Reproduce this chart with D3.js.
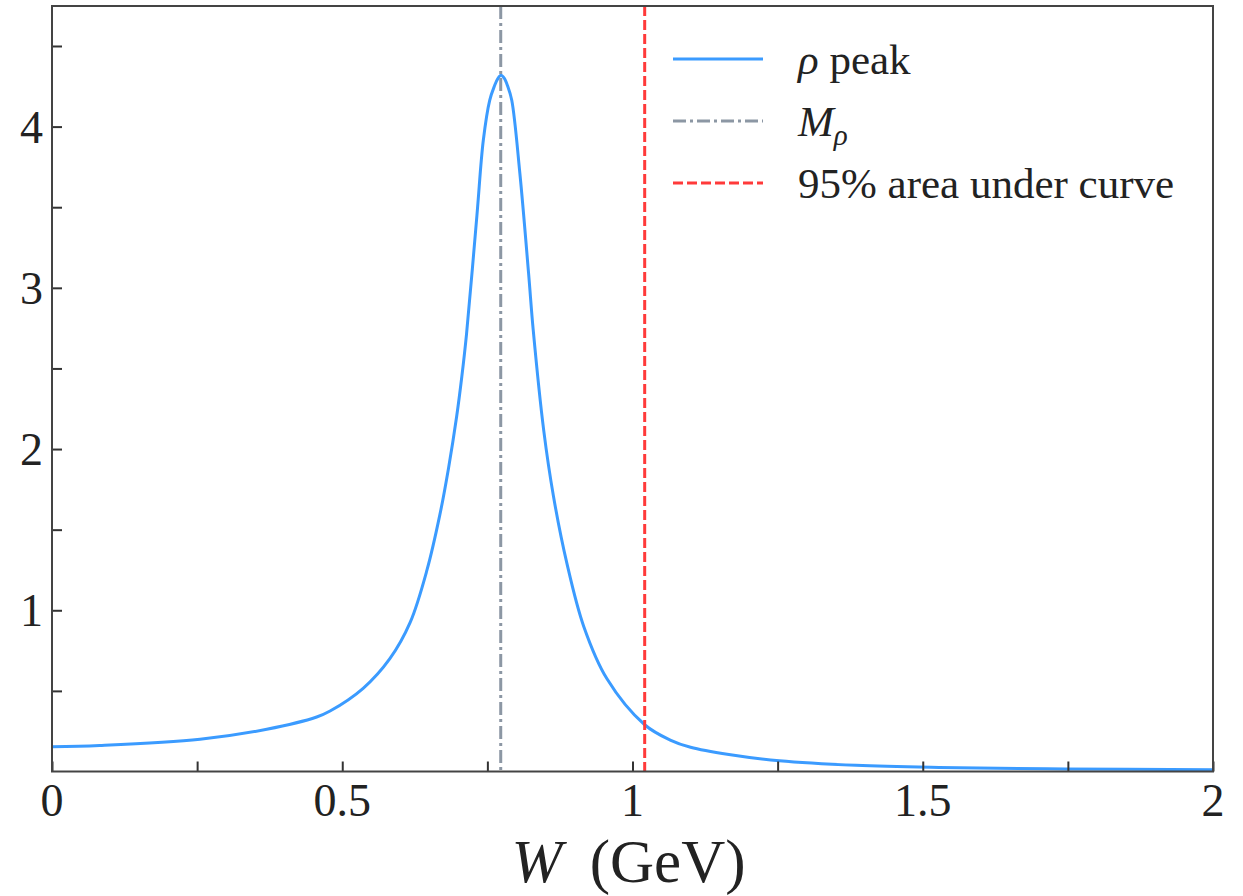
<!DOCTYPE html>
<html>
<head>
<meta charset='utf-8'/>
<title>rho peak</title>
<script src='https://d3js.org/d3.v7.min.js'></script>
<style>
body { margin: 0; background: #ffffff; }
text { font-family: 'Liberation Serif', 'DejaVu Serif', serif; fill: #222222; }
</style>
</head>
<body>
<script>
'use strict'

// curve: W (GeV) and peak height
const wValues = [0, 0.082, 0.255, 0.370, 0.456, 0.479, 0.536, 0.582, 0.617, 0.646, 0.668, 0.683,
	0.697, 0.706, 0.714, 0.732, 0.743, 0.754, 0.762, 0.768, 0.7735, 0.779, 0.785, 0.792, 0.806,
	0.821, 0.829, 0.847, 0.864, 0.887, 0.916, 0.956, 1.021, 1.065, 1.100, 1.166, 1.253, 1.385,
	1.528, 1.746, 2.0]
const peakValues = [0.154, 0.162, 0.200, 0.262, 0.338, 0.375, 0.516, 0.700, 0.925, 1.250, 1.590, 1.880,
	2.200, 2.450, 2.710, 3.450, 3.915, 4.163, 4.250, 4.298, 4.318, 4.300, 4.250, 4.163, 3.709,
	3.089, 2.737, 2.117, 1.704, 1.291, 0.900, 0.575, 0.290, 0.195, 0.150, 0.105, 0.066, 0.038,
	0.025, 0.016, 0.011]

const massRho = 0.773
const area95 = 1.021

const xMajor = [0, 0.5, 1, 1.5, 2]
const xMinor = [0.25, 0.75, 1.25, 1.75]
const yMajor = [1, 2, 3, 4]
const yMinor = [0.5, 1.5, 2.5, 3.5, 4.5]
const xTickLabels = ['0', '0.5', '1', '1.5', '2']

const legendItems = [
	{label: 'peak', kind: 'curve'},
	{label: 'M', kind: 'mass'},
	{label: '95% area under curve', kind: 'area'}
]

const colors = {curve: '#3b9bff', mass: '#8c97a4', area: '#ff3a3a'}
const dashes = {curve: null, mass: '13,4,3,4', area: '10,4'}

const W = 1243, H = 896
const margin = {top: 6, right: 30, bottom: 124.5, left: 52}
const width = W - margin.left - margin.right
const height = H - margin.top - margin.bottom

const svg = d3.select('body').append('svg')
	.attr('width', W)
	.attr('height', H)

const g = svg.append('g').attr('transform', `translate(${margin.left},${margin.top})`)

const x = d3.scaleLinear().domain([0, 2]).range([0, width])
const y = d3.scaleLinear().domain([0, 4.748]).range([height, 0])

const data = wValues.map((w, i) => ({w: w, v: peakValues[i]}))

const line = d3.line()
	.x(d => x(d.w))
	.y(d => y(d.v))
	.curve(d3.curveCatmullRom.alpha(0.5))

// curve
g.append('path')
	.datum(data)
	.attr('d', line)
	.attr('fill', 'none')
	.attr('stroke', colors.curve)
	.attr('stroke-width', 3)

// M_rho line
g.append('line')
	.attr('x1', x(massRho)).attr('x2', x(massRho))
	.attr('y1', 0).attr('y2', height)
	.attr('stroke', colors.mass)
	.attr('stroke-width', 3)
	.attr('stroke-dasharray', dashes.mass)

// 95% line
g.append('line')
	.attr('x1', x(area95)).attr('x2', x(area95))
	.attr('y1', 0).attr('y2', height)
	.attr('stroke', colors.area)
	.attr('stroke-width', 3)
	.attr('stroke-dasharray', dashes.area)

// axes, ticks pointing inward
const xAxis = d3.axisBottom(x).tickValues(xMajor.concat(xMinor))
	.tickSizeInner(-10).tickSizeOuter(0).tickFormat('')
const yAxis = d3.axisLeft(y).tickValues(yMajor.concat(yMinor))
	.tickSizeInner(-10).tickSizeOuter(0).tickFormat('')

g.append('g').attr('transform', `translate(0,${height})`).call(xAxis)
g.append('g').call(yAxis)
g.selectAll('.tick line').attr('stroke', '#333333').attr('stroke-width', 2)
g.selectAll('.domain').remove()

// frame
g.append('rect')
	.attr('width', width).attr('height', height)
	.attr('fill', 'none')
	.attr('stroke', '#444444')
	.attr('stroke-width', 2)

// tick labels
g.selectAll('.xlab')
	.data(xMajor)
	.enter().append('text')
	.attr('x', d => x(d))
	.attr('y', height + 44)
	.attr('text-anchor', 'middle')
	.style('font-size', '46px')
	.text((d, i) => xTickLabels[i])

g.selectAll('.ylab')
	.data(yMajor)
	.enter().append('text')
	.attr('x', -9)
	.attr('y', d => y(d) + 16)
	.attr('text-anchor', 'end')
	.style('font-size', '46px')
	.text(d => d)

// axis title
const title = g.append('text')
	.attr('x', width / 2 - 4)
	.attr('y', height + 110)
	.attr('text-anchor', 'middle')
	.style('font-size', '61px')
title.append('tspan').style('font-style', 'italic').text('W')
title.append('tspan').text('\u2009 (GeV)')

// legend
const legend = g.append('g').attr('transform', `translate(${621},${53})`)
const rowGap = 62
legendItems.forEach((item, i) => {
	const row = legend.append('g').attr('transform', `translate(0,${i * rowGap})`)
	row.append('line')
		.attr('x1', 0).attr('x2', 90)
		.attr('stroke', colors[item.kind])
		.attr('stroke-width', 3)
		.attr('stroke-dasharray', dashes[item.kind])
	const t = row.append('text')
		.attr('x', 125)
		.attr('y', 15)
		.style('font-size', '43px')
	if (item.kind === 'curve') {
		t.append('tspan').style('font-style', 'italic').text('ρ')
		t.append('tspan').text(' ' + item.label)
	} else if (item.kind === 'mass') {
		t.append('tspan').style('font-style', 'italic').text(item.label)
		t.append('tspan').style('font-style', 'italic').style('font-size', '29px').attr('dy', 9).text('ρ')
	} else {
		t.text(item.label)
	}
})
</script>
</body>
</html>
